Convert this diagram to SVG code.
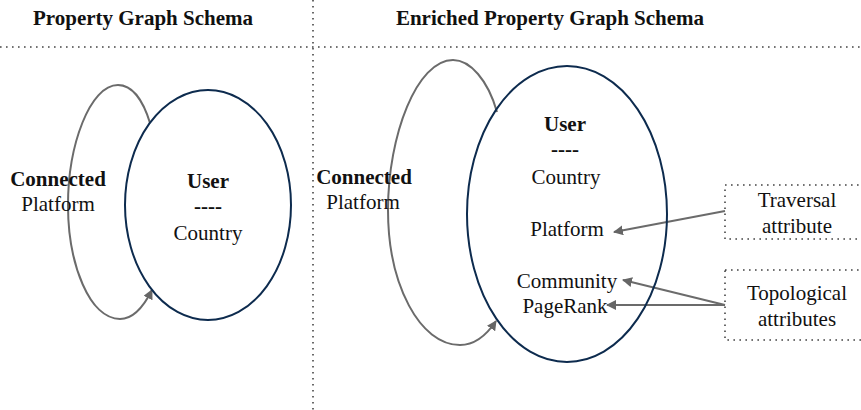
<svg xmlns="http://www.w3.org/2000/svg" width="861" height="410" viewBox="0 0 861 410">
<defs>
<marker id="ah" viewBox="0 0 10 10" refX="9" refY="5" markerWidth="5" markerHeight="5" orient="auto" markerUnits="strokeWidth">
<path d="M0,0 L10,5 L0,10 z" fill="#666"/>
</marker>
<style>
text{font-family:"Liberation Serif","Times New Roman",serif;font-size:21px;fill:#111;text-anchor:middle}
.b{font-weight:bold}
.t{font-weight:bold;font-size:21px}
.dot{fill:none;stroke:#444;stroke-width:1.6;stroke-dasharray:1.6 4.4}
.node{fill:none;stroke:#0d2b4e;stroke-width:2}
.edge{fill:none;stroke:#6b6b6b;stroke-width:2}
</style>
</defs>
<rect width="861" height="410" fill="#fff"/>
<g id="frame">
<line class="dot" x1="0" y1="47" x2="861" y2="47"/>
<line class="dot" x1="313" y1="0" x2="313" y2="410"/>
<text class="t" x="143" y="25">Property Graph Schema</text>
<text class="t" x="550" y="25">Enriched Property Graph Schema</text>
</g>
<g id="connectors">
<path class="edge" marker-end="url(#ah)" d="M150,123 C143,100 132,85 118,85 C90,85 68,145 68,205 C68,265 90,319 120,319 C133,319 144,306 152,290"/>
<path class="edge" marker-end="url(#ah)" d="M497,112 C488,80 470,60 453,60 C417,60 388,135 388,210 C388,285 420,345 460,345 C475,345 486,336 496,321"/>
<line class="edge" marker-end="url(#ah)" x1="725" y1="211" x2="614" y2="232"/>
<line class="edge" marker-end="url(#ah)" x1="725" y1="305" x2="623" y2="280"/>
<line class="edge" marker-end="url(#ah)" x1="725" y1="305" x2="607" y2="305"/>
</g>
<g id="left-label">
<text class="b" x="58" y="186">Connected</text>
<text x="58" y="211">Platform</text>
</g>
<g id="left-user">
<ellipse class="node" cx="208" cy="205" rx="83" ry="115"/>
<text class="b" x="208" y="188">User</text>
<text class="b" x="208" y="213">----</text>
<text x="208" y="240">Country</text>
</g>
<g id="right-label">
<text class="b" x="364" y="184">Connected</text>
<text x="363" y="209">Platform</text>
</g>
<g id="right-user">
<ellipse class="node" cx="567" cy="214" rx="100" ry="148"/>
<text class="b" x="565" y="131">User</text>
<text class="b" x="565" y="156">----</text>
<text x="566" y="184">Country</text>
<text x="567" y="236">Platform</text>
<text x="567" y="288">Community</text>
<text x="565" y="313">PageRank</text>
</g>
<g id="traversal">
<rect class="dot" x="725" y="185" width="150" height="54"/>
<text x="797" y="207">Traversal</text>
<text x="797" y="233">attribute</text>
</g>
<g id="topological">
<rect class="dot" x="725" y="270" width="150" height="70"/>
<text x="797" y="300">Topological</text>
<text x="797" y="326">attributes</text>
</g>
</svg>
